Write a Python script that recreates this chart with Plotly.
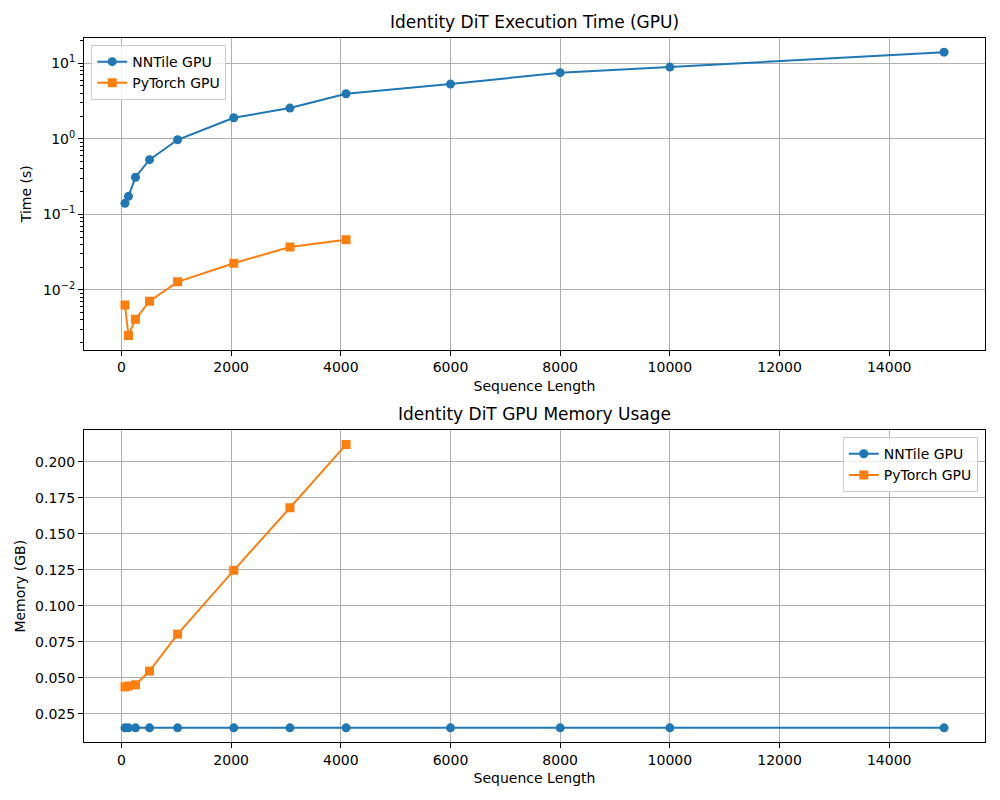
import plotly.graph_objects as go
from plotly.subplots import make_subplots

# sequence lengths
seq_nntile = [64, 128, 256, 512, 1024, 2048, 3072, 4096, 6000, 8000, 10000, 15000]
seq_torch = [64, 128, 256, 512, 1024, 2048, 3072, 4096]

# execution time (s)
time_nntile = [0.14, 0.173, 0.31, 0.53, 0.97, 1.9, 2.55, 3.95, 5.3, 7.5, 8.9, 14.0]
time_torch = [0.0063, 0.0025, 0.0041, 0.0071, 0.0128, 0.0225, 0.037, 0.046]

# memory (GB)
mem_nntile = [0.0153] * len(seq_nntile)
mem_torch = [0.0437, 0.0444, 0.0452, 0.0547, 0.0803, 0.1246, 0.168, 0.2118]

log_ticks = [0.01, 0.1, 1, 10]
log_labels = ["10<sup>\u22122</sup>", "10<sup>\u22121</sup>", "10<sup>0</sup>", "10<sup>1</sup>"]
minor_log = [m * 10.0 ** e for e in (-3, -2, -1, 0, 1) for m in range(2, 10)]
mem_ticks = [0.025, 0.05, 0.075, 0.1, 0.125, 0.15, 0.175, 0.2]

blue = "#1f77b4"
orange = "#ff7f0e"
font = "DejaVu Sans"

fig = make_subplots(rows=2, cols=1, vertical_spacing=0.115,
                    subplot_titles=["Identity DiT Execution Time (GPU)",
                                    "Identity DiT GPU Memory Usage"])

fig.add_trace(go.Scatter(x=seq_nntile, y=time_nntile, name="NNTile GPU", mode="lines+markers",
                         line=dict(color=blue, width=2), marker=dict(symbol="circle", size=9),
                         legend="legend"), row=1, col=1)
fig.add_trace(go.Scatter(x=seq_torch, y=time_torch, name="PyTorch GPU", mode="lines+markers",
                         line=dict(color=orange, width=2), marker=dict(symbol="square", size=9),
                         legend="legend"), row=1, col=1)
fig.add_trace(go.Scatter(x=seq_nntile, y=mem_nntile, name="NNTile GPU", mode="lines+markers",
                         line=dict(color=blue, width=2), marker=dict(symbol="circle", size=9),
                         legend="legend2"), row=2, col=1)
fig.add_trace(go.Scatter(x=seq_torch, y=mem_torch, name="PyTorch GPU", mode="lines+markers",
                         line=dict(color=orange, width=2), marker=dict(symbol="square", size=9),
                         legend="legend2"), row=2, col=1)

axis_style = dict(showline=True, linecolor="black", linewidth=1, mirror=True,
                  ticks="outside", ticklen=5, tickcolor="black", automargin=False,
                  showgrid=True, gridcolor="#b0b0b0", gridwidth=1, zeroline=False,
                  tickfont=dict(size=14, color="black"))

for r in (1, 2):
    fig.update_xaxes(axis_style, row=r, col=1, range=[-683, 15747], dtick=2000, tickformat="d",
                     title=dict(text="Sequence Length", font=dict(size=14), standoff=6))

fig.update_yaxes(axis_style, row=1, col=1, type="log", range=[-2.789, 1.334],
                 tickvals=log_ticks, ticktext=log_labels,
                 minor=dict(tickvals=minor_log, ticks="outside", ticklen=3, tickcolor="black", showgrid=False),
                 title=dict(text="Time (s)", font=dict(size=14), standoff=8))
fig.update_yaxes(axis_style, row=2, col=1, range=[0.0055, 0.2216],
                 tickvals=mem_ticks, tickformat=".3f",
                 title=dict(text="Memory (GB)", font=dict(size=14), standoff=6))

fig.update_annotations(font=dict(size=17, family=font, color="black"))
fig.layout.annotations[0].update(y=1.0, yshift=4)
fig.layout.annotations[1].update(yshift=4)

# the page puts the figure 8px in from the corner, so the margins allow for it
fig.update_layout(
    width=1000, height=800,
    margin=dict(l=76, r=23, t=30, b=66),
    plot_bgcolor="white", paper_bgcolor="white",
    font=dict(family=font, size=14, color="black"),
    legend=dict(x=0.008, y=0.99, xanchor="left", yanchor="top",
                bordercolor="#cccccc", borderwidth=1, bgcolor="rgba(255,255,255,0.8)",
                font=dict(size=14)),
    legend2=dict(x=0.992, y=0.433, xanchor="right", yanchor="top",
                 bordercolor="#cccccc", borderwidth=1, bgcolor="rgba(255,255,255,0.8)",
                 font=dict(size=14)),
)

fig.write_html("out.html")
